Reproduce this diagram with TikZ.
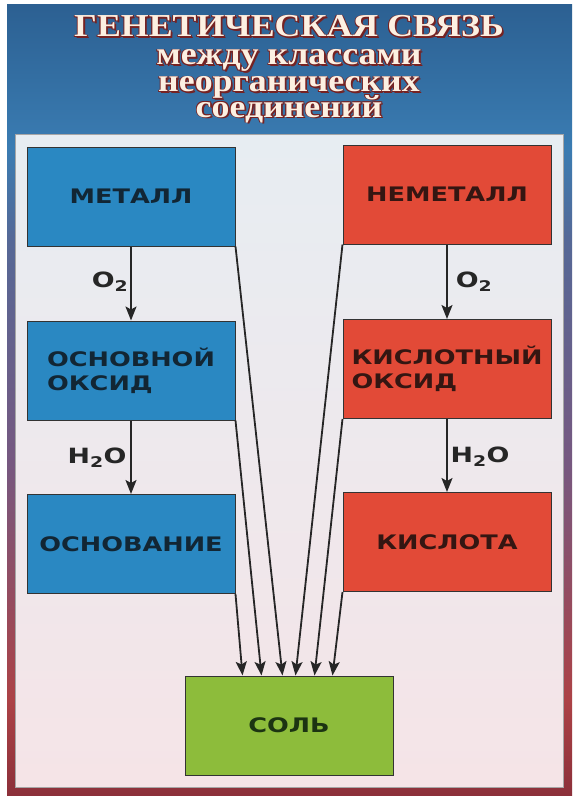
\documentclass[tikz,border=0pt]{standalone}
\usepackage{fontspec}
\setmainfont{Liberation Serif}
\newfontfamily\headfont[FakeStretch=1.12]{Liberation Serif}
\newfontfamily\boxfont[FakeStretch=1.28]{DejaVu Sans}
\usetikzlibrary{arrows.meta}

\definecolor{frametop}{RGB}{44,96,146}
\definecolor{frameblue}{RGB}{58,124,178}
\definecolor{frameslate}{RGB}{86,104,150}
\definecolor{framemid}{RGB}{118,88,128}
\definecolor{framered}{RGB}{172,66,70}
\definecolor{framedark}{RGB}{140,48,58}
\definecolor{paneltop}{RGB}{231,237,242}
\definecolor{panelbottom}{RGB}{245,228,231}
\definecolor{metalblue}{RGB}{42,136,194}
\definecolor{acidred}{RGB}{226,74,55}
\definecolor{saltgreen}{RGB}{141,188,59}
\definecolor{inkblue}{RGB}{18,38,52}
\definecolor{inkred}{RGB}{52,22,18}
\definecolor{inkgreen}{RGB}{28,52,18}
\definecolor{titlecream}{RGB}{252,240,226}
\definecolor{titleshadow}{RGB}{118,34,34}

\pgfdeclareverticalshading{framefade}{100bp}{%
  color(0bp)=(framedark); color(25bp)=(framedark);
  color(31bp)=(framered); color(46bp)=(framemid);
  color(60bp)=(frameslate); color(66bp)=(frameblue);
  color(75bp)=(frametop); color(100bp)=(frametop)}

\tikzset{
  classbox/.style={draw=black!80, line width=1pt, minimum width=208pt,
    minimum height=99pt, inner sep=0pt, align=left,
    font=\boxfont\bfseries\fontsize{20}{24}\selectfont},
  metalbox/.style={classbox, fill=metalblue, text=inkblue},
  acidbox/.style={classbox, fill=acidred, text=inkred},
  saltbox/.style={classbox, fill=saltgreen, text=inkgreen},
  feed/.style={draw=black!85, line width=1.8pt,
    -{Stealth[length=14pt,width=11pt,inset=3pt]}},
  reagent/.style={inner sep=0pt, text=black!85,
    font=\boxfont\bfseries\fontsize{21}{24}\selectfont},
  headline/.style={anchor=base, inner sep=0pt,
    font=\headfont\bfseries\fontsize{32}{32}\selectfont},
}

% one title line: dark outline first, cream text on top
\newcommand\posterline[3]{%
  \foreach \dx/\dy in {1.8/1.8,-0.9/-0.9,0.9/-0.9,-0.9/0.9,0.9/0.9}
    \node[headline, text=titleshadow] at (289+\dx,#2+\dy) {#3};
  \node[headline, text=titlecream] (#1) at (289,#2) {#3};}

\begin{document}
\begin{tikzpicture}[x=1pt, y=-1pt]
\useasboundingbox (0,0) rectangle (578,800);
\fill[white] (0,0) rectangle (578,800);

% frame and inner panel
\shade[shading=framefade] (7,5) rectangle (572,795);
\shade[top color=paneltop, bottom color=panelbottom, draw=black!35,
  line width=0.8pt] (15,134) rectangle (563,787);

% title
\posterline{head}{37}{ГЕНЕТИЧЕСКАЯ СВЯЗЬ}
\posterline{sub1}{65}{между классами}
\posterline{sub2}{92}{неорганических}
\posterline{sub3}{117}{соединений}

% classes
\node[metalbox] (metal) at (131,196.5) {МЕТАЛЛ};
\node[metalbox] (basox) at (131,370.5) {ОСНОВНОЙ\\ОКСИД};
\node[metalbox] (base) at (131,544) {ОСНОВАНИЕ};
\node[acidbox] (nonmetal) at (447,194.5) {НЕМЕТАЛЛ};
\node[acidbox] (acidox) at (447,369) {КИСЛОТНЫЙ\\ОКСИД};
\node[acidbox] (acid) at (447,542) {КИСЛОТА};
\node[saltbox] (salt) at (289,725.5) {СОЛЬ};

% chains
\draw[feed] (metal) -- (basox);
\draw[feed] (basox) -- (base);
\draw[feed] (nonmetal) -- (acidox);
\draw[feed] (acidox) -- (acid);
\node[reagent] (o2left) at (110,282) {O\textsubscript{2}};
\node[reagent] (h2oleft) at (97,458) {H\textsubscript{2}O};
\node[reagent] (o2right) at (474,282) {O\textsubscript{2}};
\node[reagent] (h2oright) at (480,457) {H\textsubscript{2}O};

% everything ends in salt
\draw[feed] (base.south east) -- ([xshift=58pt]salt.north west);
\draw[feed] (basox.south east) -- ([xshift=77pt]salt.north west);
\draw[feed] (metal.south east) -- ([xshift=98pt]salt.north west);
\draw[feed] (nonmetal.south west) -- ([xshift=111pt]salt.north west);
\draw[feed] (acidox.south west) -- ([xshift=130pt]salt.north west);
\draw[feed] (acid.south west) -- ([xshift=148pt]salt.north west);
\end{tikzpicture}
\end{document}
